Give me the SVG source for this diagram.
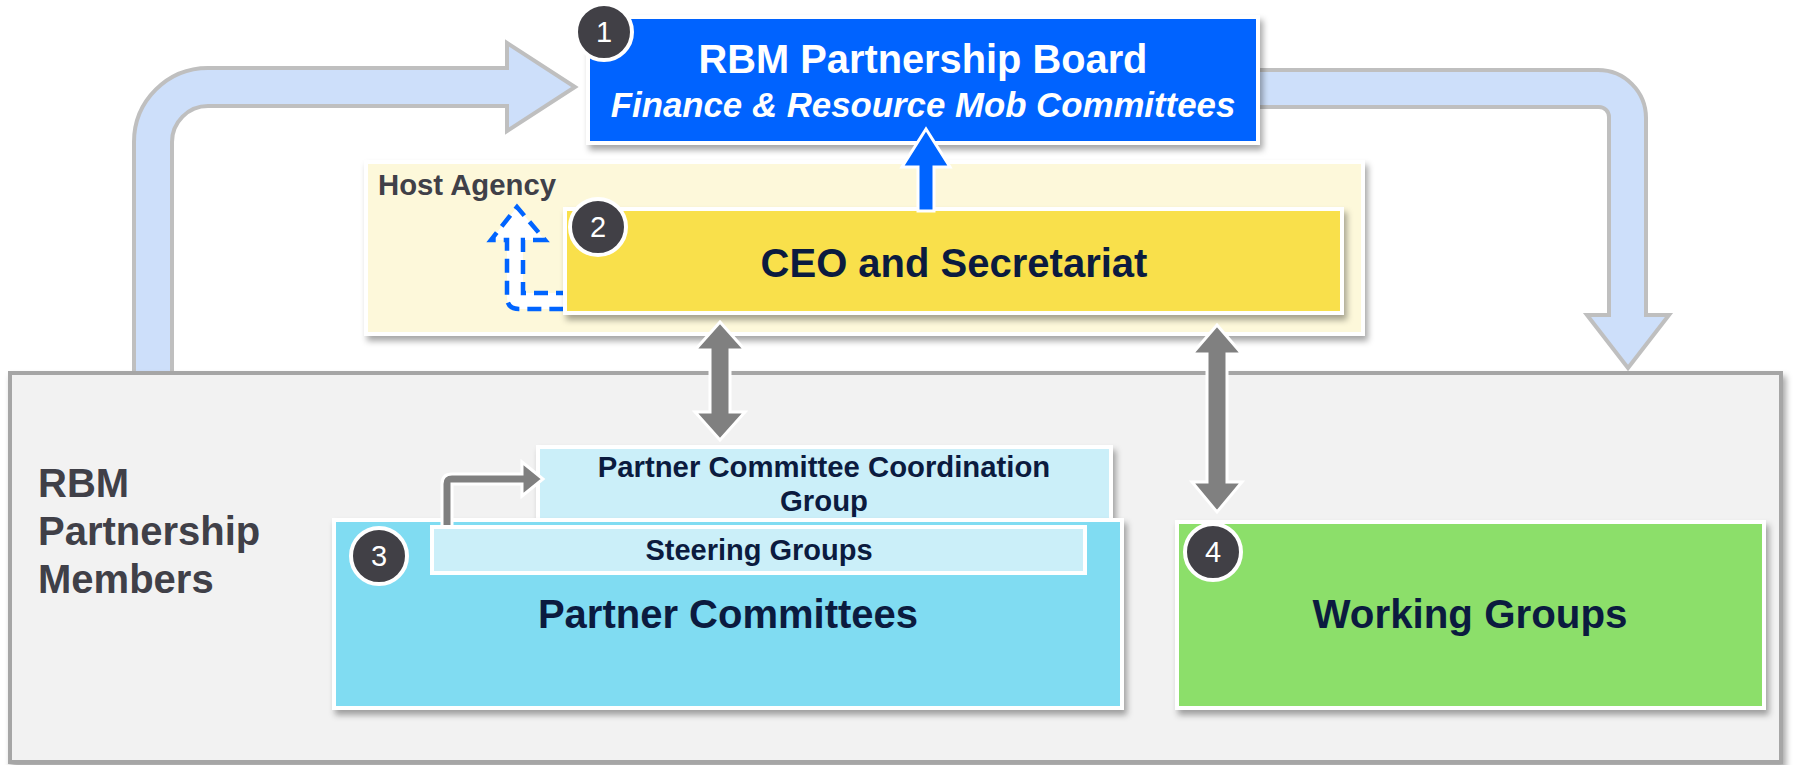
<svg xmlns="http://www.w3.org/2000/svg" width="1798" height="765" viewBox="0 0 1798 765">
<defs>
<filter id="sh" x="-10%" y="-10%" width="125%" height="140%">
<feDropShadow dx="3" dy="5" stdDeviation="3" flood-color="#000" flood-opacity="0.35"/>
</filter>
<style>
.box{stroke:#fff;stroke-width:4;filter:url(#sh)}
.big{fill:#cddffa;stroke:#bfbfbf;stroke-width:4;stroke-linejoin:miter}
.garr{fill:#808080;stroke:#fff;stroke-width:3}
.badge circle{fill:#414046;stroke:#fff;stroke-width:4}
.badge text{fill:#fff;font-family:"Liberation Sans",Arial,sans-serif;font-size:29px;text-anchor:middle}
.t{font-family:"Liberation Sans",Arial,sans-serif;font-weight:bold;text-anchor:middle;fill:#0b1b3f}
.g{font-family:"Liberation Sans",Arial,sans-serif;font-weight:bold;fill:#404048}
</style>
</defs>

<g id="connectors-big">
<path class="big" d="M134,375 L134,142 A74,74 0 0 1 208,68 L507,68 L507,43 L575,87 L507,131 L507,106 L208,106 A36,36 0 0 0 172,142 L172,375 Z"/>
<path class="big" d="M1250,70 L1598,70 A48,48 0 0 1 1646,118 L1646,315 L1669,315 L1628,368 L1587,315 L1609,315 L1609,117 A10,10 0 0 0 1599,107 L1250,107 Z"/>
</g>

<g id="members">
<rect x="10" y="373" width="1771" height="389" fill="#f2f2f2" stroke="#a6a6a6" stroke-width="4" filter="url(#sh)"/>
<text class="g" font-size="40"><tspan x="38" y="497">RBM</tspan><tspan x="38" y="545">Partnership</tspan><tspan x="38" y="593">Members</tspan></text>
</g>

<g id="host-agency">
<rect class="box" x="366" y="162" width="997" height="172" fill="#fdf8da"/>
<text class="g" x="378" y="195" font-size="29.3">Host Agency</text>
</g>

<g id="board">
<rect class="box" x="588" y="17" width="670" height="126" fill="#0064ff"/>
<text class="t" x="923" y="73" font-size="39.8" style="fill:#fff">RBM Partnership Board</text>
<text class="t" x="923" y="117" font-size="34.8" font-style="italic" style="fill:#fff">Finance &amp; Resource Mob Committees</text>
</g>

<g id="connectors">
<path d="M570,293 L523,293 L523,240 L545,240 L517,207 L491,240 L507,240 L507,297 Q507,309 519,309 L570,309 Z" fill="#fff" stroke="#0064ff" stroke-width="4.5" stroke-dasharray="14,8"/>
</g>

<g id="ceo">
<rect class="box" x="565" y="209" width="777" height="104" fill="#f9e04b"/>
<text class="t" x="954" y="277" font-size="40">CEO and Secretariat</text>
</g>

<g id="connectors-arrows">
<path d="M926,129 L950,167 L934,167 L934,211 L918,211 L918,167 L902,167 Z" fill="#0064ff" stroke="#fff" stroke-width="3"/>
<path class="garr" d="M720,322 L745,350 L730,350 L730,412 L745,412 L720,440 L695,412 L710,412 L710,350 L695,350 Z"/>
<path class="garr" d="M1217,325 L1242,354 L1227,354 L1227,482 L1242,482 L1217,512 L1192,482 L1207,482 L1207,354 L1192,354 Z"/>
</g>

<g id="coord">
<rect class="box" x="538" y="447" width="573" height="75" fill="#cbeff9"/>
<text class="t" x="824" y="477" font-size="29.3">Partner Committee Coordination</text>
<text class="t" x="824" y="511" font-size="29.3">Group</text>
</g>

<g id="partner-committees">
<rect class="box" x="334" y="520" width="788" height="188" fill="#80dcf2"/>
<text class="t" x="728" y="628" font-size="40">Partner Committees</text>
</g>

<g id="bent-arrow">
<path class="garr" d="M442,530 L442,484 Q442,474 452,474 L522,474 L522,462 L543,479 L522,496 L522,484 L452,484 L452,530 Z"/>
</g>

<g id="steering">
<rect class="box" x="432" y="527" width="653" height="46" fill="#cbeff9" style="filter:none"/>
<text class="t" x="759" y="560" font-size="29">Steering Groups</text>
</g>

<g id="working">
<rect class="box" x="1177" y="522" width="587" height="186" fill="#8cdf6a"/>
<text class="t" x="1470" y="628" font-size="40.3">Working Groups</text>
</g>

<g id="badge1" class="badge"><circle cx="604" cy="32" r="28"/><text x="604" y="42">1</text></g>
<g id="badge2" class="badge"><circle cx="598" cy="227" r="28"/><text x="598" y="237">2</text></g>
<g id="badge3" class="badge"><circle cx="379" cy="556" r="28"/><text x="379" y="566">3</text></g>
<g id="badge4" class="badge"><circle cx="1213" cy="552" r="28"/><text x="1213" y="562">4</text></g>
</svg>
